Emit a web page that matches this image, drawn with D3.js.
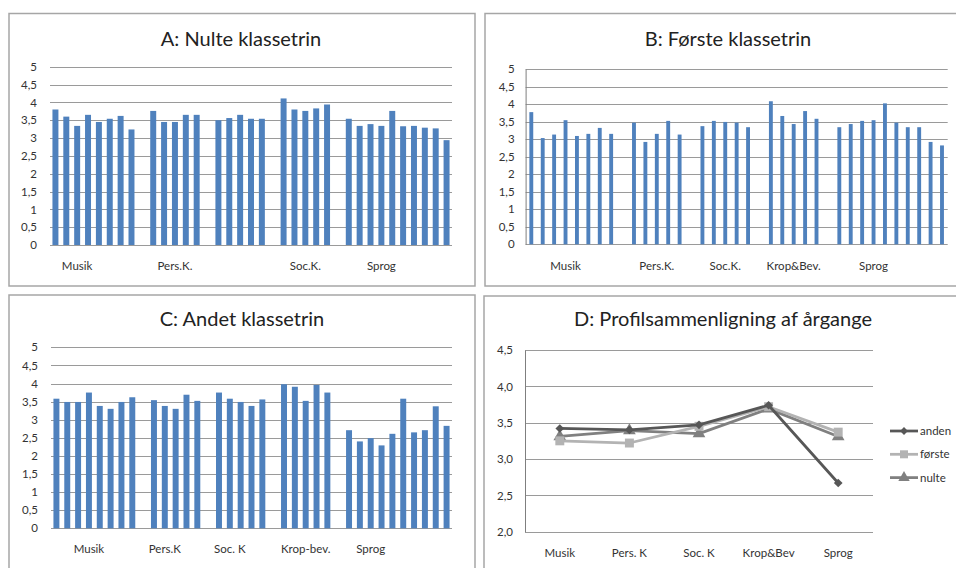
<!DOCTYPE html>
<html>
<head>
<meta charset="utf-8">
<script src="https://cdn.jsdelivr.net/npm/d3@7"></script>
<style>
  html, body { margin: 0; padding: 0; background: #fff; }
  svg { display: block; font-family: Lato, "Open Sans", sans-serif; }
</style>
</head>
<body>
<svg id="chart" width="956" height="568"></svg>
<script>
// ---------------- DATA ----------------
// Panel A: Nulte klassetrin (null = empty gap category)
const nulteValues = [3.80, 3.60, 3.34, 3.65, 3.45, 3.54, 3.62, 3.24, null,
  3.76, 3.45, 3.45, 3.65, 3.65, null,
  3.50, 3.56, 3.65, 3.54, 3.54, null,
  4.11, 3.80, 3.76, 3.83, 3.94, null,
  3.54, 3.34, 3.39, 3.34, 3.76, 3.33, 3.34, 3.29, 3.27, 2.94];
const nulteLabels = ["Musik", "Pers.K.", "Soc.K.", "Sprog"];
const nulteLabelIndex = [2, 11, 23, 30];

// Panel B: Første klassetrin
const foersteValues = [3.77, 3.03, 3.13, 3.54, 3.09, 3.15, 3.32, 3.15, null,
  3.47, 2.92, 3.15, 3.52, 3.13, null,
  3.37, 3.52, 3.49, 3.47, 3.34, null,
  4.08, 3.66, 3.43, 3.80, 3.58, null,
  3.34, 3.43, 3.52, 3.54, 4.02, 3.47, 3.34, 3.34, 2.92, 2.82];
const foersteLabels = ["Musik", "Pers.K.", "Soc.K.", "Krop&Bev.", "Sprog"];
const foersteLabelIndex = [3, 11, 17, 23, 30];

// Panel C: Andet klassetrin
const andetValues = [3.58, 3.49, 3.49, 3.75, 3.38, 3.30, 3.49, 3.62, null,
  3.54, 3.38, 3.30, 3.69, 3.52, null,
  3.75, 3.58, 3.49, 3.38, 3.56, null,
  3.98, 3.91, 3.52, 3.96, 3.75, null,
  2.71, 2.40, 2.49, 2.29, 2.61, 3.58, 2.65, 2.71, 3.37, 2.83];
const andetLabels = ["Musik", "Pers.K", "Soc. K", "Krop-bev.", "Sprog"];
const andetLabelIndex = [3, 10, 16, 23, 29];

const barTicks = [0, 0.5, 1, 1.5, 2, 2.5, 3, 3.5, 4, 4.5, 5];

// Panel D: Profilsammenligning af årgange
const profileCategories = ["Musik", "Pers. K", "Soc. K", "Krop&Bev", "Sprog"];
const profileAnden  = [3.42, 3.40, 3.47, 3.74, 2.67];
const profileFoerste = [3.25, 3.22, 3.45, 3.72, 3.37];
const profileNulte  = [3.31, 3.39, 3.35, 3.69, 3.31];
const profileSeriesNames = ["anden", "første", "nulte"];
const profileTicks = [2.0, 2.5, 3.0, 3.5, 4.0, 4.5];

// ---------------- DRAW ----------------
const svg = d3.select("#chart");
const fmt = v => d3.format(",")(v).replace(".", ",");
const fmt1 = v => d3.format(".1f")(v).replace(".", ",");
const BAR = "#4f81bd";
const GRID = "#9a9a9a";

function frame(x, y, w, h) {
  svg.append("rect").attr("x", x).attr("y", y).attr("width", w).attr("height", h)
    .attr("fill", "#fff").attr("stroke", "#a6a6a6").attr("stroke-width", 1.5);
}
function title(txt, cx, by) {
  svg.append("text").attr("x", cx).attr("y", by).attr("text-anchor", "middle")
    .attr("font-size", 20).attr("fill", "#222").text(txt);
}

function barPanel(cfg) {
  const g = svg.append("g");
  const x = d3.scaleBand().domain(d3.range(cfg.values.length))
    .range([cfg.x0, cfg.x1]).paddingInner(cfg.pad).paddingOuter(cfg.pad / 2);
  const y = d3.scaleLinear().domain([0, 5]).range([cfg.y0, cfg.y1]);
  // grid
  g.append("g").selectAll("line").data(barTicks).join("line")
    .attr("x1", cfg.x0).attr("x2", cfg.x1)
    .attr("y1", d => Math.round(y(d)) + 0.5).attr("y2", d => Math.round(y(d)) + 0.5)
    .attr("stroke", GRID).attr("stroke-width", 1);
  // y axis labels
  const ya = g.append("g").attr("transform", `translate(${cfg.x0},0)`)
    .call(d3.axisLeft(y).tickValues(barTicks).tickFormat(fmt).tickSize(0).tickPadding(cfg.tickPad));
  ya.select(".domain").attr("stroke", cfg.axisLine ? "#7f7f7f" : "none");
  ya.selectAll("text").attr("font-size", 11.5).attr("fill", "#333").attr("font-family", "Lato, sans-serif");
  // bars
  g.append("g").selectAll("rect")
    .data(cfg.values.map((v, i) => ({ v, i })).filter(d => d.v !== null))
    .join("rect")
    .attr("x", d => x(d.i)).attr("width", x.bandwidth())
    .attr("y", d => y(d.v)).attr("height", d => y(0) - y(d.v))
    .attr("fill", BAR);
  // category labels
  g.append("g").selectAll("text").data(cfg.labels).join("text")
    .attr("x", (d, k) => x(cfg.labelIndex[k]) + x.bandwidth() / 2)
    .attr("y", cfg.labelY).attr("text-anchor", "middle")
    .attr("font-size", 11.5).attr("fill", "#333").text(d => d);
}

// Panel frames
frame(9, 13.5, 466, 272.5);
frame(485, 13.5, 480, 272.5);
frame(9, 295, 466, 290);
frame(484, 296, 480, 290);

title("A: Nulte klassetrin", 241, 46);
title("B: Første klassetrin", 728, 46);
title("C: Andet klassetrin", 242, 326);
title("D: Profilsammenligning af årgange", 723, 326);

barPanel({ values: nulteValues, labels: nulteLabels, labelIndex: nulteLabelIndex,
  x0: 50, x1: 452, y0: 245, y1: 66.7, pad: 0.45, tickPad: 13, labelY: 270, axisLine: false });
barPanel({ values: foersteValues, labels: foersteLabels, labelIndex: foersteLabelIndex,
  x0: 525.6, x1: 947.7, y0: 244.3, y1: 69, pad: 0.66, tickPad: 11, labelY: 270, axisLine: true });
barPanel({ values: andetValues, labels: andetLabels, labelIndex: andetLabelIndex,
  x0: 51, x1: 452, y0: 528.3, y1: 347.3, pad: 0.45, tickPad: 13, labelY: 553, axisLine: false });

// Panel D: lines
(function () {
  const g = svg.append("g");
  const x = d3.scalePoint().domain(profileCategories).range([525, 873]).padding(0.5);
  const y = d3.scaleLinear().domain([2, 4.5]).range([531.7, 350]);
  g.append("g").selectAll("line").data(profileTicks).join("line")
    .attr("x1", 525).attr("x2", 873)
    .attr("y1", d => Math.round(y(d)) + 0.5).attr("y2", d => Math.round(y(d)) + 0.5)
    .attr("stroke", GRID);
  const ya = g.append("g").attr("transform", "translate(525,0)")
    .call(d3.axisLeft(y).tickValues(profileTicks).tickFormat(fmt1).tickSize(0).tickPadding(12));
  ya.select(".domain").attr("stroke", "#7f7f7f");
  ya.selectAll("text").attr("font-size", 11.5).attr("fill", "#333").attr("font-family", "Lato, sans-serif");
  g.append("g").selectAll("text").data(profileCategories).join("text")
    .attr("x", d => x(d)).attr("y", 557).attr("text-anchor", "middle")
    .attr("font-size", 11.5).attr("fill", "#333").text(d => d);

  const series = [
    { name: profileSeriesNames[0], values: profileAnden, color: "#575757", sym: d3.symbolSquare, size: 38, rot: 45 },
    { name: profileSeriesNames[1], values: profileFoerste, color: "#b3b3b3", sym: d3.symbolSquare, size: 80, rot: 0 },
    { name: profileSeriesNames[2], values: profileNulte, color: "#808080", sym: d3.symbolTriangle, size: 70, rot: 0 }
  ];
  const line = d3.line().x((d, i) => x(profileCategories[i])).y(d => y(d));
  [series[2], series[1], series[0]].forEach(s => {
    g.append("path").datum(s.values).attr("d", line)
      .attr("fill", "none").attr("stroke", s.color).attr("stroke-width", 2.75)
      .attr("stroke-linejoin", "round");
    g.append("g").selectAll("path").data(s.values).join("path")
      .attr("transform", (d, i) => `translate(${x(profileCategories[i])},${y(d)}) rotate(${s.rot})`)
      .attr("d", d3.symbol().type(s.sym).size(s.size)).attr("fill", s.color);
  });
  // legend
  const lg = g.append("g");
  series.forEach((s, k) => {
    const ly = 431 + k * 23.3;
    lg.append("line").attr("x1", 890).attr("x2", 918).attr("y1", ly).attr("y2", ly)
      .attr("stroke", s.color).attr("stroke-width", 2.75);
    lg.append("path").attr("transform", `translate(904,${ly}) rotate(${s.rot})`)
      .attr("d", d3.symbol().type(s.sym).size(s.size * 0.8)).attr("fill", s.color);
    lg.append("text").attr("x", 920).attr("y", ly + 4).attr("font-size", 11.5)
      .attr("fill", "#333").text(s.name);
  });
})();
</script>
</body>
</html>
